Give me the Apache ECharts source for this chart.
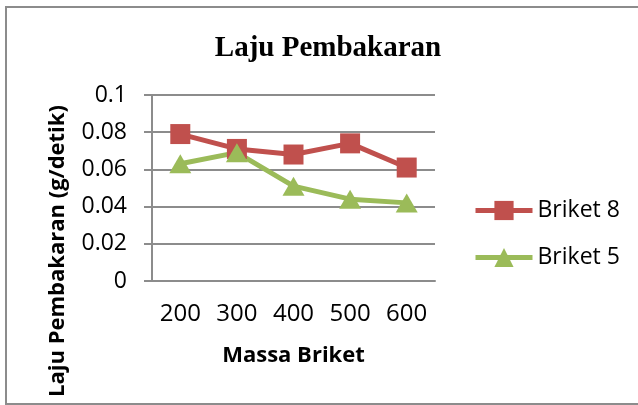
<!DOCTYPE html>
<html>
<head>
<meta charset="utf-8">
<script src="https://cdn.jsdelivr.net/npm/echarts@6/dist/echarts.min.js"></script>
<style>
  html, body { margin: 0; padding: 0; background: #fff; }
  #chart { width: 638px; height: 405px; }
</style>
</head>
<body>
<div id="chart"></div>
<script>
var massa = ["200", "300", "400", "500", "600"];
var briket8 = [0.079, 0.071, 0.068, 0.074, 0.061];
var briket5 = [0.063, 0.069, 0.051, 0.044, 0.042];

var gridColor = "#8c8c8c";
var labelFont = "'Open Sans', 'Liberation Sans', sans-serif";

var chart = echarts.init(document.getElementById("chart"));
chart.setOption({
    backgroundColor: "#fff",
    animation: false,
    title: {
        text: "Laju Pembakaran", left: 323, top: 29, textAlign: "center",
        textStyle: { fontFamily: "'Liberation Serif', 'DejaVu Serif', serif", fontSize: 29, fontWeight: "bold", color: "#000" }
    },
    legend: {
        orient: "vertical", left: 468, top: 194, itemGap: 24,
        itemWidth: 57, itemHeight: 24,
        lineStyle: { width: 5 },
        textStyle: { fontFamily: labelFont, fontSize: 23, color: "#000" },
        data: ["Briket 8", "Briket 5"]
    },
    grid: { left: 152, right: 203, top: 95, bottom: 124 },
    xAxis: {
        type: "category", data: massa, boundaryGap: true,
        name: "Massa Briket", nameLocation: "middle", nameGap: 64,
        nameTextStyle: { fontFamily: labelFont, fontSize: 22, fontWeight: "bold", color: "#000" },
        axisLine: { lineStyle: { color: gridColor, width: 2 } },
        axisTick: { show: false },
        axisLabel: { fontFamily: labelFont, fontSize: 24, color: "#000", margin: 21 }
    },
    yAxis: {
        type: "value", min: 0, max: 0.1, interval: 0.02,
        axisLine: { show: true, lineStyle: { color: gridColor, width: 2 } },
        axisTick: { show: true, length: 8, lineStyle: { color: gridColor, width: 2 } },
        splitLine: { lineStyle: { color: gridColor, width: 2 } },
        axisLabel: { fontFamily: labelFont, fontSize: 23, color: "#000", margin: 25 }
    },
    graphic: [
        {
            type: "rect", silent: true, z: -1,
            shape: { x: 6, y: 7, width: 640, height: 397 },
            style: { fill: null, stroke: "#8c8c8c", lineWidth: 2 }
        },
        {
            type: "text", x: 58, y: 251, rotation: Math.PI / 2,
            style: {
                text: "Laju Pembakaran (g/detik)", align: "center", verticalAlign: "middle",
                font: "bold 22px " + labelFont, fill: "#000"
            }
        }
    ],
    series: [
        {
            name: "Briket 8", type: "line", data: briket8,
            symbol: "rect", symbolSize: 20,
            lineStyle: { color: "#c0504d", width: 5 },
            itemStyle: { color: "#c0504d" }
        },
        {
            name: "Briket 5", type: "line", data: briket5,
            symbol: "triangle", symbolSize: [22, 19],
            lineStyle: { color: "#9bbb59", width: 5 },
            itemStyle: { color: "#9bbb59" }
        }
    ]
});
</script>
</body>
</html>
